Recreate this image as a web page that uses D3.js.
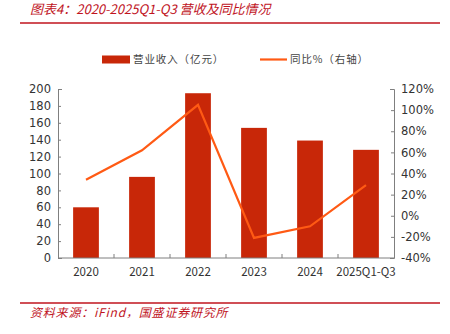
<!DOCTYPE html>
<html>
  <head>
    <meta charset="utf-8">
    <title>营收及同比情况</title>
    <script src="https://d3js.org/d3.v7.min.js"></script>
    <style>
      body { margin: 0; background: #fff; }
      text { font-family: "Noto Sans CJK SC", "Noto Sans", sans-serif; }
      .tick text { font-family: Tahoma, "DejaVu Sans", sans-serif; font-size: 11.5px; fill: #333; }
    </style>
  </head>
  <body>
  <div id="chart"></div>
  <script>

  var years = ["2020", "2021", "2022", "2023", "2024", "2025Q1-Q3"];
  var revenue = [60, 96, 195, 154, 139, 128];
  var yoy = [34, 62, 105, -21, -10, 29];
  var leftTicks = [0, 20, 40, 60, 80, 100, 120, 140, 160, 180, 200];
  var rightTicks = [-40, -20, 0, 20, 40, 60, 80, 100, 120];

  var width = 450, height = 334;
  var m = { top: 89, right: 56, bottom: 76, left: 58 };
  var barColor = "#C82708", lineColor = "#FF5A14", axisColor = "#7f7f7f", red = "#C0141E";

  var svg = d3.select("#chart").append("svg")
      .attr("width", width)
      .attr("height", height);

  // title + rules
  svg.append("text")
      .attr("x", 30).attr("y", 14)
      .attr("fill", red)
      .attr("font-size", 13)
      .attr("font-style", "italic")
      .text("图表4：2020-2025Q1-Q3 营收及同比情况");

  svg.append("line").attr("x1", 20).attr("x2", 440).attr("y1", 23).attr("y2", 23)
      .attr("stroke", red).attr("stroke-width", 1.5);
  svg.append("line").attr("x1", 20).attr("x2", 440).attr("y1", 303).attr("y2", 303)
      .attr("stroke", red).attr("stroke-width", 1.5);

  svg.append("text")
      .attr("x", 30).attr("y", 317)
      .attr("fill", red)
      .attr("font-size", 12)
      .attr("letter-spacing", 0.8)
      .attr("font-style", "italic")
      .text("资料来源：iFind，国盛证券研究所");

  var x = d3.scaleBand()
      .domain(years)
      .range([m.left, width - m.right])
      .paddingInner(0.54)
      .paddingOuter(0.27);

  var yL = d3.scaleLinear().domain([0, 200]).range([height - m.bottom, m.top]);
  var yR = d3.scaleLinear().domain([-40, 120]).range([height - m.bottom, m.top]);

  // bars
  svg.selectAll(".bar")
      .data(revenue)
      .enter()
      .append("rect")
      .attr("class", "bar")
      .attr("x", function(d_, i_){ return x(years[i_]); })
      .attr("width", x.bandwidth())
      .attr("y", function(d_){ return yL(d_); })
      .attr("height", function(d_){ return yL(0) - yL(d_); })
      .attr("fill", barColor);

  // axes
  var gL = svg.append("g")
      .attr("transform", "translate(" + m.left + ",0)")
      .call(d3.axisLeft(yL).tickValues(leftTicks).tickSizeInner(-3).tickSizeOuter(-4).tickPadding(7));

  var gR = svg.append("g")
      .attr("transform", "translate(" + (width - m.right) + ",0)")
      .call(d3.axisRight(yR).tickValues(rightTicks).tickSizeInner(-3).tickSizeOuter(-4).tickPadding(7)
          .tickFormat(function(d_){ return d_ + "%"; }));

  var xTicks = years.map(function(d_){ return x(d_) - x.step() * x.paddingInner() / 2; }).slice(1);
  var gX = svg.append("g")
      .attr("transform", "translate(0," + (height - m.bottom) + ")");
  gX.append("line")
      .attr("x1", m.left).attr("x2", width - m.right)
      .attr("stroke", axisColor);
  gX.selectAll(".xt")
      .data(xTicks)
      .enter()
      .append("line")
      .attr("x1", function(d_){ return d_; })
      .attr("x2", function(d_){ return d_; })
      .attr("y1", 0).attr("y2", -4)
      .attr("stroke", axisColor);
  gX.selectAll(".xl")
      .data(years)
      .enter()
      .append("text")
      .attr("class", "xl")
      .attr("x", function(d_){ return x(d_) + x.bandwidth() / 2; })
      .attr("y", 18)
      .attr("text-anchor", "middle")
      .attr("fill", "#333")
      .attr("font-family", "Tahoma, 'DejaVu Sans', sans-serif")
      .attr("font-size", 11.5)
      .text(function(d_){ return d_; });

  [gL, gR].forEach(function(g_){
      g_.selectAll("path, line").attr("stroke", axisColor);
      g_.select(".domain").attr("stroke", axisColor);
  });

  // line
  var line = d3.line()
      .x(function(d_, i_){ return x(years[i_]) + x.bandwidth() / 2; })
      .y(function(d_){ return yR(d_); });

  svg.append("path")
      .datum(yoy)
      .attr("d", line)
      .attr("fill", "none")
      .attr("stroke", lineColor)
      .attr("stroke-width", 2.2);

  // legend
  svg.append("rect")
      .attr("x", 102).attr("y", 55.5)
      .attr("width", 28).attr("height", 8)
      .attr("fill", barColor);
  svg.append("text")
      .attr("x", 133).attr("y", 63)
      .attr("font-size", 10.5).attr("letter-spacing", 0.9).attr("fill", "#444")
      .text("营业收入（亿元）");

  svg.append("line")
      .attr("x1", 260).attr("x2", 287).attr("y1", 59.5).attr("y2", 59.5)
      .attr("stroke", lineColor).attr("stroke-width", 2.2);
  svg.append("text")
      .attr("x", 290).attr("y", 63)
      .attr("font-size", 10.5).attr("letter-spacing", 0.9).attr("fill", "#444")
      .text("同比%（右轴）");

  </script>
  </body>
</html>
